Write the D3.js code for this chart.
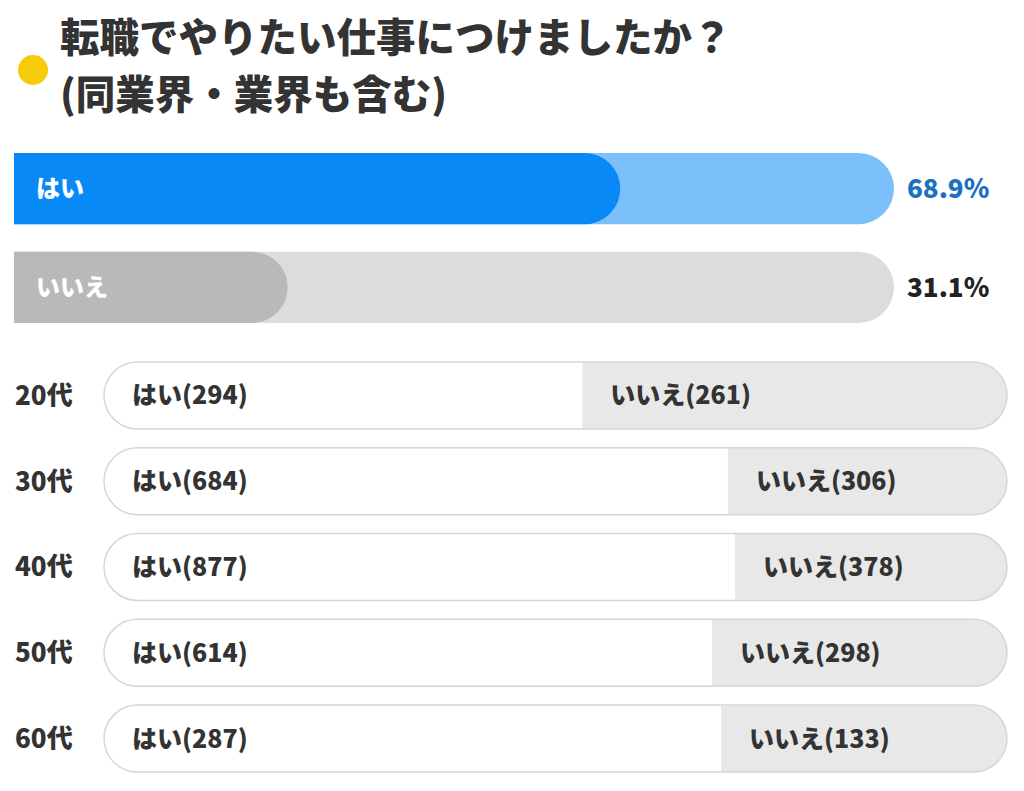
<!DOCTYPE html>
<html>
<head>
<meta charset="utf-8">
<script src="https://cdn.jsdelivr.net/npm/d3@7"></script>
<style>
  body { margin: 0; background: #fff; }
  svg { display: block; font-family: "Noto Sans CJK JP", sans-serif; }
</style>
</head>
<body>
<div id="chart"></div>
<script>
const titleLines = ["転職でやりたい仕事につけましたか？", "(同業界・業界も含む)"];

const answers = ["はい", "いいえ"];
const answerShares = [68.9, 31.1];

const ages = ["20代", "30代", "40代", "50代", "60代"];
const yesCounts = [294, 684, 877, 614, 287];
const noCounts = [261, 306, 378, 298, 133];

const width = 1024, height = 791;

const svg = d3.select("#chart").append("svg")
    .attr("width", width)
    .attr("height", height);

// ---- Title ----
svg.append("circle")
    .attr("cx", 33)
    .attr("cy", 70)
    .attr("r", 15)
    .attr("fill", "#f7cb0a");

svg.selectAll(".title")
    .data(titleLines)
    .enter()
    .append("text")
    .attr("x", 60)
    .attr("y", (d, i) => 52 + i * 57)
    .style("font-size", "39.5px")
    .style("font-weight", "900")
    .style("fill", "#333")
    .text(d => d);

// ---- Overall share bars ----
const xShare = d3.scaleLinear()
    .domain([0, 100])
    .range([14, 894]);

const yShare = d3.scaleBand()
    .domain(answers)
    .range([153, 323])
    .paddingInner(0.28);

const shareColors = {
    "はい": { bg: "#7cc0fb", fg: "#0989f6", text: "#1b70c2" },
    "いいえ": { bg: "#dcdcdc", fg: "#b9b9b9", text: "#222" }
};

// pill with square left end, rounded right end
function rightPill(x0, x1, y0, h) {
    const r = h / 2;
    const p = d3.path();
    p.moveTo(x0, y0);
    p.lineTo(x1 - r, y0);
    p.arc(x1 - r, y0 + r, r, -Math.PI / 2, Math.PI / 2);
    p.lineTo(x0, y0 + h);
    p.closePath();
    return p.toString();
}

const share = svg.selectAll(".share")
    .data(answers.map((a, i) => ({ answer: a, value: answerShares[i] })))
    .enter()
    .append("g");

const bh = yShare.bandwidth();

share.append("path")
    .attr("d", d => rightPill(xShare(0), xShare(100), yShare(d.answer), bh))
    .attr("fill", d => shareColors[d.answer].bg);

share.append("path")
    .attr("d", d => rightPill(xShare(0), xShare(d.value), yShare(d.answer), bh))
    .attr("fill", d => shareColors[d.answer].fg);

share.append("text")
    .attr("x", 36)
    .attr("y", d => yShare(d.answer) + bh / 2)
    .attr("dy", "0.35em")
    .style("font-size", "24px")
    .style("font-weight", "900")
    .style("fill", "#fff")
    .text(d => d.answer);

share.append("text")
    .attr("x", 907)
    .attr("y", d => yShare(d.answer) + bh / 2)
    .attr("dy", "0.36em")
    .style("font-size", "26px")
    .style("font-weight", "900")
    .style("fill", d => shareColors[d.answer].text)
    .text(d => `${d.value.toFixed(1)}%`);

// ---- Age breakdown ----
const ageData = ages.map((a, i) => ({ age: a, yes: yesCounts[i], no: noCounts[i] }));

const yAge = d3.scaleBand()
    .domain(ages)
    .range([362, 772])
    .paddingInner(0.22);

const barX0 = 104, barX1 = 1007;
const ah = yAge.bandwidth();

svg.append("defs").selectAll("clipPath")
    .data(ageData)
    .enter()
    .append("clipPath")
    .attr("id", (d, i) => `clip${i}`)
    .append("rect")
    .attr("x", barX0)
    .attr("y", d => yAge(d.age))
    .attr("width", barX1 - barX0)
    .attr("height", ah)
    .attr("rx", ah / 2);

const row = svg.selectAll(".age")
    .data(ageData)
    .enter()
    .append("g");

row.each(function (d) {
    d.x = d3.scaleLinear()
        .domain([0, d.yes + d.no])
        .range([barX0, barX1]);
});

row.append("rect")
    .attr("clip-path", (d, i) => `url(#clip${i})`)
    .attr("x", barX0)
    .attr("y", d => yAge(d.age))
    .attr("width", barX1 - barX0)
    .attr("height", ah)
    .attr("fill", "#e8e8e8");

row.append("rect")
    .attr("clip-path", (d, i) => `url(#clip${i})`)
    .attr("x", barX0)
    .attr("y", d => yAge(d.age))
    .attr("width", d => d.x(d.yes) - barX0)
    .attr("height", ah)
    .attr("fill", "#fff");

row.append("rect")
    .attr("x", barX0)
    .attr("y", d => yAge(d.age))
    .attr("width", barX1 - barX0)
    .attr("height", ah)
    .attr("rx", ah / 2)
    .attr("fill", "none")
    .attr("stroke", "#d6d6d6")
    .attr("stroke-width", 1.5);

const labelStyle = sel => sel
    .attr("y", d => yAge(d.age) + ah / 2)
    .attr("dy", "0.36em")
    .style("font-size", "25px")
    .style("font-weight", "900")
    .style("fill", "#333");

row.append("text")
    .attr("x", 15)
    .call(labelStyle)
    .style("font-size", "26px")
    .text(d => d.age);

row.append("text")
    .attr("x", 132)
    .call(labelStyle)
    .text(d => `はい(${d.yes})`);

row.append("text")
    .attr("x", d => d.x(d.yes) + 28)
    .call(labelStyle)
    .text(d => `いいえ(${d.no})`);
</script>
</body>
</html>
